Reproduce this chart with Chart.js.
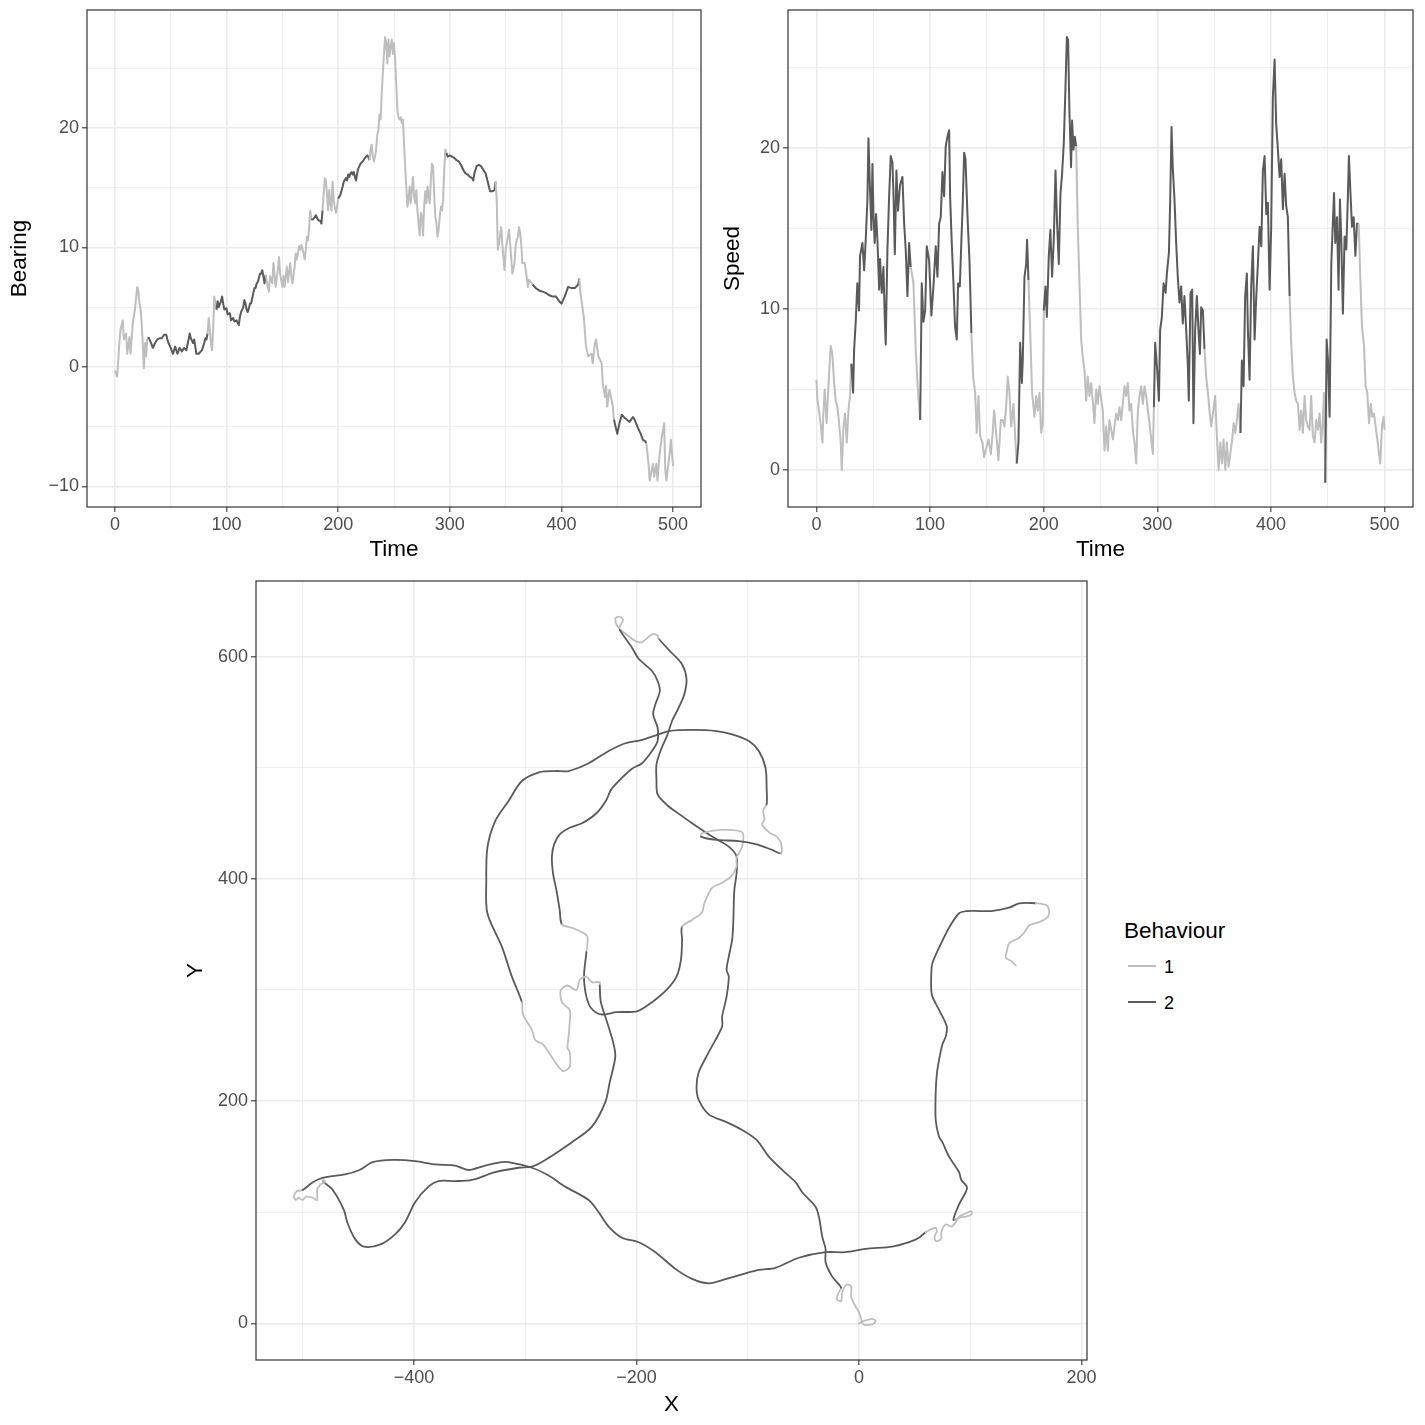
<!DOCTYPE html>
<html><head><meta charset="utf-8">
<script src="https://cdn.jsdelivr.net/npm/chart.js@4.4.1/dist/chart.umd.min.js"></script>
<style>
html,body{margin:0;padding:0;background:#fff;width:1425px;height:1425px;overflow:hidden;font-family:"Liberation Sans",Arial,Helvetica,sans-serif;}
canvas{position:absolute;}
#legend{position:absolute;left:0;top:0;}
.lg-title{position:absolute;left:1124px;top:918px;font-size:22.5px;line-height:26px;color:#000;white-space:nowrap;}
.lg-key{position:absolute;left:1128px;width:28px;height:2px;}
.lg-lab{position:absolute;left:1164px;font-size:18px;line-height:20px;color:#000;}
</style></head><body>
<canvas id="cBearing" width="710" height="570" style="left:0;top:0"></canvas>
<canvas id="cSpeed" width="710" height="570" style="left:715px;top:0"></canvas>
<canvas id="cTrack" width="930" height="855" style="left:170px;top:570px"></canvas>
<div id="legend">
  <div class="lg-title">Behaviour</div>
  <div class="lg-key" id="key1" style="top:965px"></div><div class="lg-lab" style="top:957px">1</div>
  <div class="lg-key" id="key2" style="top:1001px"></div><div class="lg-lab" style="top:993px">2</div>
</div>
<script>
// ---------------- data ----------------
const behaviourLabels = ['1', '2'];
// start time of each behaviour run and its behaviour
const behaviourStart = [0, 30, 83, 91, 135, 176, 186, 200, 227.5, 297, 341, 372, 416, 447, 476];
const behaviourState = [1, 2, 1, 2, 1, 2, 1, 2, 1, 2, 1, 2, 1, 2, 1];

const bearingTime = [
  0,2,4,5,7,8,10,11,13,14,
  16,18,20,21,22,23,24,26,27,28,
  29,30,32,34,36,38,40,42,44,46,
  47,48,50,52,54,56,58,60,62,64,
  66,67,68,70,71,72,73,75,77,78,
  80,81,82,83,84,85,86,87,88,89,
  90,91,92,93,95,96,97,98,100,101,
  103,104,106,107,109,110,111,112,113,115,
  116,117,118,119,120,121,122,124,125,126,
  127,128,130,131,132,133,134,135,137,138,
  139,141,142,143,144,146,147,148,150,151,
  152,154,155,157,158,159,161,162,163,165,
  166,167,169,170,171,172,173,174,175,176,
  178,180,182,184,185,186,187,188,189,190,
  191,192,193,194,195,196,197,198,199,200,
  202,204,205,207,208,209,210,211,212,213,
  214,215,216,217,218,219,220,222,224,226,
  227,228,229,230,231,232,233,234,235,236,
  237,238,239,240,241,242,243,244,245,246,
  247,248,249,250,251,252,253,254,255,256,
  257,258,259,260,261,262,263,264,265,266,
  267,268,269,270,271,272,273,274,275,276,
  277,278,279,280,281,282,283,284,285,286,
  287,288,289,290,291,292,293,294,295,296,
  297,298,300,302,304,306,308,310,312,314,
  316,318,320,321,322,324,326,328,330,332,
  334,336,338,340,341,342,343,344,346,347,
  349,350,352,353,355,356,358,359,361,362,
  363,364,365,367,368,370,371,374,377,380,
  383,386,389,392,395,398,400,403,406,409,
  412,415,416,417,420,422,424,427,428,430,
  431,433,436,437,439,440,441,443,446,447,
  450,452,454,457,461,464,465,468,471,473,
  475,476,478,479,482,483,485,486,488,490,
  492,493,494,497,498,500
];
const bearingValue = [
  -0.3,-0.8,2.0,3.1,3.9,2.3,2.8,1.1,2.5,1.1,
  3.7,4.8,6.7,6.4,5.3,4.8,3.7,-0.1,2.0,0.9,
  2.3,2.5,2.1,1.6,2.0,2.3,2.4,2.4,2.7,2.7,
  2.3,2.0,1.6,1.1,1.7,1.1,1.6,1.3,1.6,1.4,
  2.3,2.8,2.4,2.0,2.3,1.7,1.1,1.1,1.3,1.4,
  2.0,2.4,2.3,2.8,4.1,3.1,2.0,1.4,3.1,5.9,
  5.3,4.8,5.5,5.0,5.5,5.9,5.3,4.8,4.9,4.4,
  4.5,3.9,4.1,3.8,3.9,3.7,3.5,4.2,4.6,5.0,
  5.6,5.3,4.8,4.6,4.9,5.3,5.3,6.2,6.6,6.6,
  7.0,7.1,7.8,7.8,8.1,7.6,7.0,7.7,6.7,6.3,
  7.6,7.0,8.7,7.8,6.7,8.1,9.2,7.8,6.7,7.6,
  6.7,8.4,7.1,8.7,7.6,7.0,8.4,9.5,9.0,10.1,
  9.8,10.2,9.5,9.0,9.8,10.9,10.6,11.7,13.1,12.3,
  12.4,12.7,12.3,12.2,12.0,13.1,14.5,15.8,15.6,14.4,
  13.1,14.8,13.8,13.1,15.5,14.0,13.3,12.9,13.4,14.1,
  14.4,15.1,15.5,15.8,15.6,16.1,15.9,16.2,16.3,16.1,
  16.3,15.9,15.6,16.2,16.6,16.8,17.0,17.2,17.5,17.7,
  17.6,17.3,18.2,18.6,17.6,17.2,17.6,18.2,19.4,19.8,
  21.1,20.7,22.9,24.6,26.2,27.6,27.1,25.4,27.4,26.0,
  26.8,27.4,26.2,27.1,25.7,23.7,21.5,20.9,20.7,20.9,
  20.4,20.7,18.7,16.8,15.1,13.4,14.0,15.1,13.7,14.8,
  15.9,14.3,13.7,14.8,13.1,12.0,11.0,12.9,12.6,11.0,
  13.4,14.7,13.7,15.1,14.3,13.7,15.6,17.0,16.8,14.5,
  12.6,12.0,10.9,11.5,12.6,13.4,13.1,14.0,16.5,18.2,
  17.9,17.6,17.7,17.6,17.5,17.3,17.2,16.9,16.5,16.2,
  16.1,15.9,15.8,15.6,16.2,16.8,16.9,16.8,16.5,16.2,
  15.5,14.7,14.7,14.8,15.5,14.0,9.8,10.3,11.7,10.3,
  8.1,9.8,10.9,11.5,9.2,7.8,8.7,10.3,10.9,11.7,
  11.2,10.3,8.7,8.7,8.1,6.7,7.3,6.9,6.6,6.4,
  6.3,6.2,6.0,5.9,5.9,5.5,5.3,5.9,6.7,6.6,
  6.6,6.9,7.4,6.2,4.2,1.7,0.9,1.1,0.3,2.0,
  2.3,0.9,0.3,-1.4,-2.5,-1.6,-3.3,-1.9,-3.3,-4.4,
  -5.6,-4.7,-4.0,-4.3,-4.6,-4.2,-4.3,-5.0,-5.6,-6.1,
  -6.2,-6.4,-8.1,-9.5,-8.1,-9.2,-8.1,-9.5,-7.2,-5.8,
  -4.7,-8.6,-9.5,-7.2,-6.1,-8.3
];

const speedTime = [
  0,1,2.3,4,5.3,6,7.3,9,11,12.6,
  14,15.6,17,18.5,20,21.4,22.3,23.8,25.2,26.7,
  28.2,29.6,30.8,32.3,33.2,34.6,36,37.5,38.4,40.5,
  42,43.4,44.9,45.8,47,48.4,49.3,50.2,51.3,52.5,
  53.7,55.2,56,57.5,59,60.2,61,62.5,64,65.4,
  66.9,67.8,69,70.4,71.8,73.6,75.7,77.2,78.6,80.1,
  81.6,83,85.4,87.4,88.9,91.3,92.7,94.2,95.7,97.1,
  99.2,101.2,103,105,106.5,108,109.4,110.9,112.4,113.8,
  115.3,116.8,117.7,119.1,120.6,122,123.5,124.7,126.2,127.6,
  128.8,130,131.2,133,134.7,136.4,137.9,139.7,141.1,142.6,
  144.1,146.1,147.6,149.6,151.4,153.5,154.9,156.4,157.9,160.2,
  162.3,164,165.5,166.9,168.4,169.9,171.4,173.4,175.2,176.3,
  177.8,179.3,180.8,181.6,183.1,184.6,185.4,186.6,188,189.8,
  191.9,193.4,194.8,196.3,197.8,199.2,200.1,201.6,202.8,204.5,
  205.9,207.4,208.9,210.4,211.8,213.3,214.8,216.2,217.7,219.2,
  220.4,221.5,222.6,224.1,225,226.2,227.4,228.6,230,231.5,
  233,234.4,235.9,237.4,238.8,240.3,241.8,243.2,244.7,246.2,
  247.6,249.1,252,253.5,255,256.4,257.9,259.4,260.9,262.3,
  263.8,265.3,266.7,268.2,269.6,271.1,272.6,274,275.5,277,
  278.4,279.9,281.4,282.9,284.3,285.8,287.3,288.7,290.2,291.7,
  293.1,294.6,296.1,297,298.1,299.9,301.4,302.5,304,305.5,
  307.3,308.4,310.2,311.3,312.5,313.6,315.1,316.6,318,319.5,
  321,322.4,323.9,325.4,326.8,327.7,329.2,330.7,331.8,333.3,
  334.8,336.5,337.5,338.6,340.1,341.5,343,344.5,345.9,347.4,
  348.9,350.9,352.4,353.9,355.4,356.9,358.3,359.8,361.2,362.7,
  364.2,365.6,367.1,368.6,370,371.5,373.2,374.4,375.9,377.3,
  378.8,379.7,381.2,382.6,384.1,385.6,387.1,388.5,390,391.5,
  392.9,394.4,395.9,397.3,398.8,400.2,401.7,403.2,404.6,406.1,
  407.6,409,410.5,412,413.4,414.9,416.4,417.8,419.3,420.8,
  422.2,423.7,425.2,426.6,428.1,429.6,431,432.5,434,435.4,
  436.9,438.4,439.8,441.3,442.8,444.2,445.7,446.6,447.8,449,
  450.2,451.6,453.1,454,455.5,456.6,458.1,459.5,460.7,461.9,
  463.3,464.8,466.3,467.7,468.6,470.1,471.3,472.8,474.3,475.7,
  477.2,478.6,480.1,481.9,483.3,484.8,486.3,487.8,489.2,490.7,
  492.1,493.6,495.1,496.2,497.7,499.1,500
];
const speedValue = [
  5.6,4.3,3.7,2.7,1.7,3.3,5.0,2.9,5.8,7.7,
  7.2,5.4,4.3,3.9,2.9,1.7,0.0,2.7,3.5,1.7,
  3.7,4.6,6.6,4.8,7.5,9.2,11.6,9.9,13.3,14.1,
  12.4,14.3,16.8,20.6,17.8,14.9,19.0,15.9,14.1,15.9,
  14.3,11.2,13.1,11.0,12.6,9.3,7.8,13.7,17.0,19.5,
  19.1,17.2,13.4,18.6,16.1,17.7,18.2,15.3,13.7,10.8,
  14.1,12.6,11.6,7.5,5.4,3.1,11.6,9.2,9.9,13.9,
  13.0,9.6,11.4,13.9,12.0,15.3,15.7,18.5,17.0,20.1,
  20.7,21.1,16.9,14.1,11.6,8.9,8.1,11.6,11.4,14.3,
  16.6,19.7,19.3,15.7,13.0,8.5,5.8,4.8,2.3,4.6,
  2.1,1.7,0.8,1.4,1.9,1.0,2.1,3.7,2.5,0.6,
  3.1,3.1,2.7,3.9,5.8,4.8,2.7,4.1,1.7,0.4,
  1.7,7.9,5.4,6.8,12.0,12.8,14.3,11.8,8.9,4.8,
  3.3,4.6,3.7,4.8,2.3,2.9,9.9,11.4,9.5,13.3,
  14.9,12.0,14.3,18.6,15.3,12.8,17.2,18.4,20.3,23.8,
  26.9,26.7,22.4,18.8,21.7,19.9,20.7,20.1,15.1,11.6,
  8.1,7.0,6.2,4.3,5.8,4.6,5.4,4.3,2.9,5.0,
  4.1,5.2,3.7,1.2,2.7,1.2,3.1,2.5,1.9,2.7,
  3.5,3.1,3.9,3.1,4.1,5.2,4.6,5.4,3.7,4.1,
  2.5,1.7,0.4,3.7,4.6,5.2,4.1,5.2,4.6,3.7,
  2.9,1.9,1.0,3.9,7.9,6.2,4.3,8.7,9.5,11.6,
  11.0,12.2,13.5,16.6,21.3,18.8,16.8,14.1,12.0,10.4,
  11.4,9.1,10.8,8.7,6.6,4.3,11.0,11.2,2.9,8.7,
  10.8,8.3,7.2,10.1,9.9,7.5,5.8,4.8,3.7,2.7,
  3.5,4.6,2.1,0.0,1.7,0.4,1.9,0.0,1.7,0.2,
  1.0,1.7,2.9,2.3,3.1,4.1,2.3,6.8,5.2,10.8,
  12.2,8.7,5.6,11.4,13.9,8.1,10.8,12.8,15.1,13.9,
  18.6,19.5,15.9,16.6,11.2,15.1,23.2,25.5,21.5,19.9,
  18.2,19.3,16.2,18.4,16.4,15.7,10.8,7.9,5.8,4.8,
  4.3,4.1,2.5,3.7,2.3,4.6,3.1,2.7,2.5,4.6,
  2.1,1.7,3.1,2.5,3.5,1.7,3.1,4.8,-0.8,8.1,
  6.8,3.3,12.8,14.5,17.2,14.1,15.7,11.2,16.8,14.3,
  9.7,14.5,13.7,17.0,19.5,17.0,15.1,15.7,13.3,15.3,
  15.3,12.0,8.9,7.7,5.2,4.8,2.9,4.1,3.3,3.5,
  2.7,1.9,1.0,0.4,2.7,3.3,2.5
];

// track: one row per behaviour run
const trackX = [
  0,4,12,15,12,4,2,0,-3,-7,-7,-11,-15,-16,-20,-18,-16,
  -24,-30,-30,-33,-36,-39,-51,-57,-69,-81,-92,-105,-119,-135,-144,-146,-144,-135,-123,-123,-119,-117,-119,-117,-114,-113,-112,-110,-110,-117,-132,-150,-164,-172,-181,-182,-182,-178,-172,-168,-162,-157,-155,-159,-168,-180,
  -181,-186,-195,-201,-213,-217,-219,-216,-212,-215,-215,
  -204,-198,-186,-181,-179,-183,-185,-181,-181,-186,-195,-204,-216,-223,-227,-236,-249,-260,-269,-274,-276,-275,-272,-269,-267,
  -258,-249,-244,-245,
  -247,-247,-245,-241,-232,-218,-199,-186,-173,-164,-160,-159,-159,
  -150,-141,-139,-132,-124,-115,-110,-110,-105,-105,-124,-141,-142,
  -128,-108,-92,-78,-70,
  -70,-74,-81,-87,-85,-86,-83,
  -83,-84,-90,-99,-114,-128,-150,-171,-180,-195,-210,-225,-243,-261,-273,-287,-303,-315,-327,-334,-335,-334,-321,-312,-303,
  -302,-294,-291,-284,-279,-273,-266,-260,-260,-262,-261,-260,-260,-267,-268,-262,-254,-251,-245,-240,-233,-233,
  -232,-227,-221,-219,-224,-228,-240,-258,-282,-294,-306,-327,-348,-363,-378,-387,-399,-408,-417,-430,-445,-453,-460,-463,-473,-482,
  -481,-480,-484,-487,-487,-491,-497,-500,-504,-506,-508,-505,-500,
  -491,-482,-462,-449,-437,-419,-399,-381,-363,-351,-336,-321,-315,-294,-279,-264,-243,-234,-225,-213,-198,-183,-165,-150,-135,-119,-105,-90,-75,-54,-30,-12,6,30,45,54,60,
  69,70,68,69,74,74,78,83,87,90,94,101,101,96,90,85,
  90,96,97,92,90,81,75,72,69,69,70,72,75,78,79,72,66,65,65,66,72,81,90,97,108,119,135,144,159,
  169,171,168,159,153,148,144,135,133,132,137,141
];
const trackY = [
  0,2,4,2,-1,-1,4,10,15,24,33,35,28,20,22,28,32,
  42,55,67,78,96,105,118,127,138,150,165,174,181,188,201,213,226,244,267,276,294,312,318,330,345,360,390,405,420,429,438,450,460,466,476,489,503,516,530,542,554,566,580,593,603,616,
  619,620,613,614,623,627,634,636,633,627,624,
  608,598,587,578,569,557,548,536,524,515,504,499,488,480,471,459,450,446,440,431,420,405,390,372,359,
  356,352,348,334,
  316,307,294,284,278,280,281,289,300,312,327,345,357,
  363,370,378,392,396,402,411,419,429,442,444,441,438,
  435,434,431,426,423,
  432,438,442,449,453,462,467,
  482,500,515,524,530,533,534,533,530,525,522,515,504,497,497,496,488,470,452,428,398,369,339,312,289,
  278,264,255,251,244,235,227,231,244,248,258,271,282,289,300,304,300,309,312,307,307,304,
  289,273,253,240,217,199,177,163,147,141,140,136,129,128,128,123,109,91,80,71,69,76,91,102,120,128,
  129,127,125,120,111,113,114,111,113,111,114,119,120,
  127,131,134,138,145,147,146,143,142,138,142,145,145,140,133,123,111,100,87,77,73,64,49,40,36,40,44,48,50,59,64,64,67,69,73,77,82,
  86,83,78,74,76,82,89,87,91,96,98,101,98,96,95,93,
  107,118,123,129,136,150,163,168,183,208,224,237,251,258,267,282,294,300,314,324,338,356,369,371,371,371,374,378,378,
  376,369,364,360,358,351,347,342,335,329,326,322
];
const trackRunLength = [17, 46, 11, 25, 4, 13, 13, 5, 7, 25, 22, 26, 13, 37, 16, 29, 12];
const trackRunBehaviour = [1, 2, 1, 2, 1, 2, 1, 2, 1, 2, 1, 2, 1, 2, 1, 2, 1];

// axis ticks
const timeMajor = [0, 100, 200, 300, 400, 500];
const timeMinor = [50, 150, 250, 350, 450];
const bearingMajor = [-10, 0, 10, 20];
const bearingMinor = [-5, 5, 15, 25];
const speedMajor = [0, 10, 20];
const speedMinor = [5, 15, 25];
const xMajor = [-400, -200, 0, 200];
const xMinor = [-500, -300, -100, 100];
const yMajor = [0, 200, 400, 600];
const yMinor = [100, 300, 500];

// ---------------- drawing ----------------
const FONT = '"Liberation Sans", Arial, Helvetica, sans-serif';
const TICK_SIZE = 18, TITLE_SIZE = 22.5;
const COLORS = {1: '#BEBEBE', 2: '#5A5A5A'};
document.getElementById('key1').style.background = COLORS[1];
document.getElementById('key2').style.background = COLORS[2];

function behaviourAt(t) {
  let s = behaviourState[0];
  for (let i = 0; i < behaviourStart.length; i++) if (t >= behaviourStart[i]) s = behaviourState[i];
  return s;
}
const trackBehaviour = [];
trackRunLength.forEach((n, i) => { for (let k = 0; k < n; k++) trackBehaviour.push(trackRunBehaviour[i]); });

function fmt(v) { return v < 0 ? '\u2212' + Math.abs(v) : String(v); }

function makeAxis(o) {
  const all = o.major.concat(o.minor).sort((a, b) => a - b);
  const isMajor = v => o.major.indexOf(v) >= 0;
  return {
    type: 'linear', position: o.position, min: o.min, max: o.max,
    afterBuildTicks: s => { s.ticks = all.map(v => ({value: v})); },
    afterFit: s => {
      if (o.position === 'left') s.width = o.size; else s.height = o.size;
      s.paddingTop = 0; s.paddingBottom = 0; s.paddingLeft = 0; s.paddingRight = 0;
    },
    ticks: {
      autoSkip: false, maxRotation: 0, minRotation: 0, padding: o.position === 'left' ? 3 : 2, color: '#4D4D4D',
      font: {family: FONT, size: TICK_SIZE},
      callback: v => isMajor(v) ? fmt(v) : ''
    },
    grid: {
      color: '#EBEBEB',
      lineWidth: c => (c.tick && isMajor(c.tick.value)) ? 1.6 : 0.8,
      drawTicks: true, tickLength: 5, tickWidth: 1.1,
      tickColor: c => (c.tick && isMajor(c.tick.value)) ? '#333333' : 'rgba(0,0,0,0)'
    },
    border: {display: false},
    title: {
      display: true, text: o.title, color: '#000000', font: {family: FONT, size: TITLE_SIZE},
      padding: o.position === 'left' ? {top: o.titlePad, bottom: 0} : {top: 0, bottom: o.titlePad}
    }
  };
}

const panelBorder = {
  id: 'panelBorder',
  afterDraw(chart) {
    const {ctx, chartArea: a} = chart;
    ctx.save();
    ctx.strokeStyle = '#333333';
    ctx.lineWidth = 1.2;
    ctx.strokeRect(a.left, a.top, a.right - a.left, a.bottom - a.top);
    ctx.restore();
  }
};

function baseOptions(pad, xAxis, yAxis) {
  return {
    responsive: false, animation: false, devicePixelRatio: 1, events: [],
    layout: {padding: pad},
    plugins: {legend: {display: false}, tooltip: {enabled: false}},
    scales: {x: xAxis, y: yAxis}
  };
}

function seriesChart(id, times, values, yMajorT, yMinorT, yMin, yMax, yTitle, ySize, yPad, pad) {
  const pts = times.map((t, i) => ({x: t, y: values[i]}));
  return new Chart(document.getElementById(id), {
    type: 'scatter',
    data: {datasets: [{
      data: pts, showLine: true, pointRadius: 0, borderWidth: 2, borderColor: COLORS[2],
      borderJoinStyle: 'round', tension: 0,
      segment: {borderColor: c => COLORS[behaviourAt(times[c.p0DataIndex])]}
    }]},
    options: baseOptions(pad,
      makeAxis({position: 'bottom', min: -25, max: 525, major: timeMajor, minor: timeMinor, title: 'Time', size: 63, titlePad: 6.5}),
      makeAxis({position: 'left', min: yMin, max: yMax, major: yMajorT, minor: yMinorT, title: yTitle, size: ySize, titlePad: yPad})),
    plugins: [panelBorder]
  });
}

seriesChart('cBearing', bearingTime, bearingValue, bearingMajor, bearingMinor, -11.72, 29.87, 'Bearing', 87, 6.5,
  {left: 0, right: 9, top: 10, bottom: 0});
seriesChart('cSpeed', speedTime, speedValue, speedMajor, speedMinor, -2.3, 28.57, 'Speed', 73, 4.5,
  {left: 0, right: 12, top: 10, bottom: 0});

const trackPts = trackX.map((x, i) => ({x: x, y: trackY[i]}));
new Chart(document.getElementById('cTrack'), {
  type: 'scatter',
  data: {datasets: [{
    data: trackPts, showLine: true, pointRadius: 0, borderWidth: 1.8, borderColor: COLORS[2],
    borderJoinStyle: 'round', borderCapStyle: 'round', tension: 0.3,
    segment: {borderColor: c => COLORS[trackBehaviour[c.p1DataIndex]]}
  }]},
  options: baseOptions({left: 0, right: 13, top: 11, bottom: 0},
    makeAxis({position: 'bottom', min: -542, max: 205, major: xMajor, minor: xMinor, title: 'X', size: 65, titlePad: 6.5}),
    makeAxis({position: 'left', min: -33, max: 668, major: yMajor, minor: yMinor, title: 'Y', size: 86, titlePad: 12.5})),
  plugins: [panelBorder]
});
</script>
</body></html>
